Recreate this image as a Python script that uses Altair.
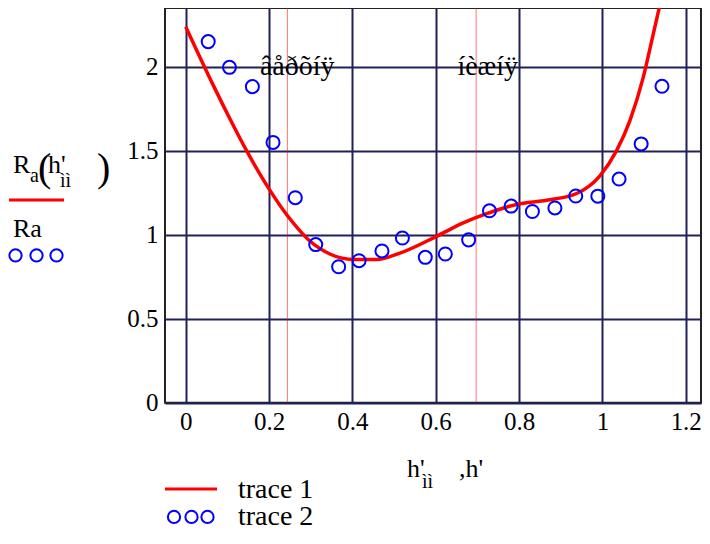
import altair as alt
import pandas as pd

# fitted curve R_a(h')
fit_x = [0.0, 0.066, 0.106, 0.146, 0.198, 0.242, 0.270, 0.298, 0.346, 0.402, 0.458, 0.514,
         0.602, 0.666, 0.722, 0.794, 0.866, 0.938, 0.994, 1.034, 1.066, 1.098, 1.122, 1.141]
fit_y = [2.238, 1.890, 1.690, 1.500, 1.280, 1.120, 1.035, 0.962, 0.885, 0.852, 0.852, 0.890,
         0.990, 1.070, 1.125, 1.180, 1.205, 1.245, 1.350, 1.500, 1.679, 1.936, 2.194, 2.40]

# measured points Ra
pts_x = [0.054, 0.105, 0.160, 0.2095, 0.263, 0.312, 0.367, 0.416, 0.471, 0.520, 0.575,
         0.623, 0.679, 0.729, 0.781, 0.832, 0.886, 0.936, 0.989, 1.040, 1.093, 1.143]
pts_y = [2.149, 1.996, 1.881, 1.549, 1.220, 0.941, 0.809, 0.845, 0.903, 0.980, 0.865,
         0.885, 0.969, 1.142, 1.170, 1.138, 1.159, 1.230, 1.229, 1.331, 1.540, 1.883]

x_ticks = [0, 0.2, 0.4, 0.6, 0.8, 1.0, 1.2]
y_ticks = [0, 0.5, 1.0, 1.5, 2.0]
marker_x = [0.244, 0.697]
labels = ["âåðõíÿ", "íèæíÿ"]
label_x = [0.178, 0.652]

FONT = "Liberation Serif"
GRID = "#20205a"

fit_df = pd.DataFrame({"x": fit_x, "y": fit_y})
pts_df = pd.DataFrame({"x": pts_x, "y": pts_y})
mark_df = pd.DataFrame({"x": marker_x})
lab_df = pd.DataFrame({"x": label_x, "t": labels})

W, H = 536, 394.7
xs = alt.Scale(domain=[-0.0497, 1.2366], nice=False, zero=False)
ys = alt.Scale(domain=[0, 2.349], nice=False, zero=False)

xaxis = alt.Axis(values=x_ticks, title=None, grid=True, ticks=False, domain=False,
                 labelExpr="datum.value == 1 ? '1' : format(datum.value, '.1f') == '0.0' ? '0' : format(datum.value, '.1f')",
                 labelPadding=7, labelFlush=False)
yaxis = alt.Axis(values=y_ticks, title=None, grid=True, ticks=False, domain=False,
                 labelExpr="datum.value == 0 ? '0' : datum.value == 1 ? '1' : datum.value == 2 ? '2' : format(datum.value, '.1f')",
                 labelPadding=7)

base_line = alt.Chart(fit_df).mark_line(color="#ff0000", strokeWidth=3.5, interpolate="monotone", clip=True).encode(
    x=alt.X("x:Q", scale=xs, axis=xaxis),
    y=alt.Y("y:Q", scale=ys, axis=yaxis),
)

vlines = alt.Chart(mark_df).mark_rule(color="#ff0000", strokeWidth=1, opacity=0.55).encode(
    x=alt.X("x:Q", scale=xs), y=alt.value(0), y2=alt.value(H))

points = alt.Chart(pts_df).mark_point(shape="circle", filled=False, color="#0000ff", size=170, strokeWidth=2,
                                      opacity=1).encode(
    x=alt.X("x:Q", scale=xs), y=alt.Y("y:Q", scale=ys))

ann = alt.Chart(lab_df).mark_text(font=FONT, fontSize=28, align="left", baseline="alphabetic", color="black").encode(
    x=alt.X("x:Q", scale=xs), y=alt.datum(1.95), text="t:N")

one = pd.DataFrame({"d": [0]})

OX = 165  # page x of the plot's left edge
OY = 8    # page y of the plot's top edge


def txt(s, px, py, size=26, align="left", baseline="alphabetic"):
    return alt.Chart(one).mark_text(text=s, font=FONT, fontSize=size, align=align, baseline=baseline,
                                    color="black").encode(x=alt.value(px - OX), y=alt.value(py - OY))


def circ(px, py, size=150):
    return alt.Chart(one).mark_point(shape="circle", filled=False, color="#0000ff", size=size,
                                     strokeWidth=2, opacity=1).encode(x=alt.value(px - OX), y=alt.value(py - OY))


def hline(x1, x2, py):
    return alt.Chart(one).mark_rule(color="#ff0000", strokeWidth=3).encode(
        x=alt.value(x1 - OX), x2=alt.value(x2 - OX), y=alt.value(py - OY))


layers = [vlines, base_line, points, ann,
          # left legend
          txt("R", 13, 173), txt("a", 30, 182, 20), txt("(", 38, 181, 40),
          txt("h'", 48, 173), txt("ìì", 60, 187, 20), txt(")", 97, 181, 40),
          hline(9, 64, 200),
          txt("Ra", 13, 237),
          circ(15.5, 255.5), circ(36.5, 255.5), circ(56.5, 255.5),
          # x axis title
          txt("h'", 407, 477), txt("ìì", 422, 488, 20), txt(",h'", 459, 477),
          # bottom legend
          hline(165, 217, 489), txt("trace 1", 238, 490, 28, baseline="middle"),
          circ(174, 517), circ(191.5, 517), circ(207.5, 517), txt("trace 2", 238, 517, 28, baseline="middle"),
          ]

chart = alt.layer(*layers).properties(
    width=W, height=H,
    autosize=alt.AutoSizeParams(type="none"),
    padding={"left": OX - 8, "top": 0, "right": 1, "bottom": 129},
    background="white",
).configure_view(stroke="#222222", strokeWidth=2).configure_axis(
    labelFont=FONT, labelFontSize=25, labelColor="black", gridColor=GRID, gridWidth=2, gridOpacity=1,
)

chart.save("out.html", embed_options={"renderer": "svg", "actions": False})
